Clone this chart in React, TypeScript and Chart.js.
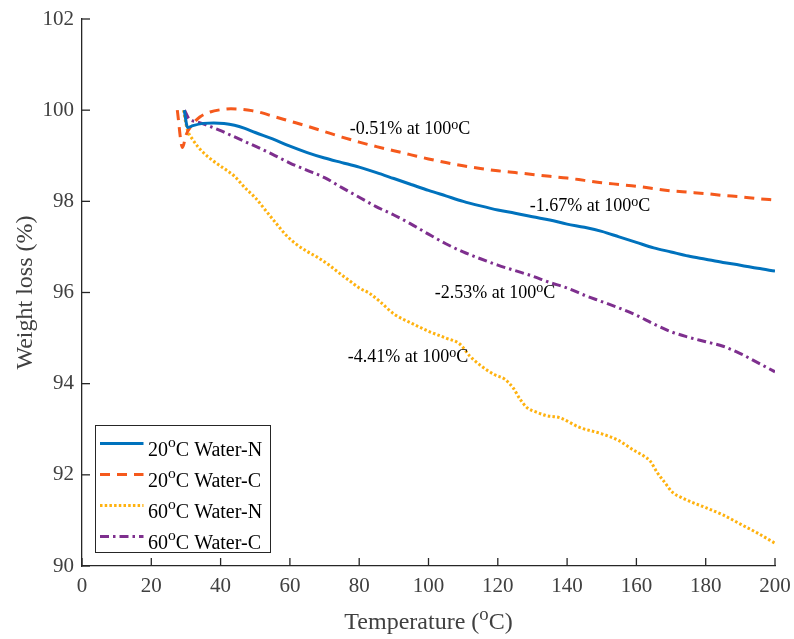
import React, { useEffect, useRef } from 'react';
import { Chart, registerables } from 'chart.js';

Chart.register(...registerables);

// ---------- data ----------
const temp20N = [29.5, 30.5, 32, 35, 38, 41, 44, 47, 50, 55, 60, 65, 70, 75, 80, 85, 90, 95, 100, 105, 110, 115, 120, 125, 130, 135, 140, 145, 150, 155, 160, 165, 170, 175, 180, 185, 190, 195, 200];
const weight20N = [100.0, 99.62, 99.66, 99.71, 99.72, 99.71, 99.67, 99.6, 99.51, 99.37, 99.21, 99.07, 98.95, 98.85, 98.75, 98.63, 98.5, 98.37, 98.24, 98.12, 98.0, 97.9, 97.81, 97.74, 97.66, 97.59, 97.5, 97.43, 97.34, 97.22, 97.1, 96.98, 96.89, 96.8, 96.73, 96.66, 96.6, 96.53, 96.47];

const temp20C = [27.5, 29, 30, 31.5, 34, 37, 40, 43, 46, 49, 52, 55, 60, 65, 70, 75, 80, 85, 90, 95, 100, 105, 110, 115, 120, 125, 130, 135, 140, 145, 150, 155, 160, 165, 170, 175, 180, 185, 190, 195, 200];
const weight20C = [100.0, 99.18, 99.45, 99.65, 99.85, 99.96, 100.01, 100.03, 100.02, 99.99, 99.94, 99.87, 99.76, 99.65, 99.53, 99.41, 99.3, 99.2, 99.11, 99.02, 98.93, 98.85, 98.78, 98.72, 98.67, 98.63, 98.59, 98.55, 98.51, 98.46, 98.41, 98.37, 98.33, 98.28, 98.23, 98.2, 98.17, 98.13, 98.1, 98.06, 98.03];

const temp60N = [29.3, 30.3, 32, 35, 38, 41, 44, 47, 50, 53, 56, 59, 62, 65, 68, 71, 74, 77, 80, 83, 86, 90, 95, 100, 105, 109, 112, 115, 119, 122, 124.5, 126.5, 128.5, 131, 134, 138, 143.6, 150, 155, 159, 162, 164, 166, 168, 170.5, 173, 176, 180, 185, 190, 195, 200];
const weight60N = [100.0, 99.6, 99.35, 99.07, 98.88, 98.72, 98.55, 98.3, 98.08, 97.8, 97.52, 97.25, 97.05, 96.9, 96.77, 96.62, 96.44, 96.27, 96.1, 95.98, 95.8, 95.53, 95.33, 95.15, 95.0, 94.87, 94.6, 94.4, 94.2, 94.1, 93.9, 93.65, 93.47, 93.38, 93.3, 93.25, 93.04, 92.9, 92.75, 92.55, 92.42, 92.3, 92.05, 91.85, 91.61, 91.5, 91.4, 91.28, 91.12, 90.92, 90.72, 90.5];

const temp60C = [29.6, 31, 33, 36, 40, 45, 50, 55, 60, 65, 70, 75, 80, 85, 90, 95, 100, 105, 110, 115, 120, 125, 130, 135, 140, 145, 150, 155, 160, 165, 170, 175, 180, 185, 190, 195, 200];
const weight60C = [100.0, 99.8, 99.75, 99.67, 99.55, 99.38, 99.21, 99.03, 98.84, 98.68, 98.52, 98.3, 98.09, 97.88, 97.7, 97.5, 97.28, 97.07, 96.89, 96.74, 96.6, 96.48, 96.36, 96.22, 96.1, 95.94, 95.8, 95.66, 95.5, 95.31, 95.14, 95.02, 94.92, 94.82, 94.66, 94.46, 94.26];

const seriesTemps = ['20', '20', '60', '60'];
const seriesNames = ['Water-N', 'Water-C', 'Water-N', 'Water-C'];

const noteLosses = ['-0.51%', '-1.67%', '-2.53%', '-4.41%'];
const noteTemp = '100';
const noteAtX = [77.3, 129.2, 101.8, 76.7];
const noteAtY = [99.47, 97.78, 95.89, 94.47];

const xTicksStep = 20;
const yTicksStep = 2;

// ---------- style ----------
const FONT = '"Liberation Serif", "Times New Roman", serif';
const AXIS = '#262626';
const LABEL = '#404040';
const COLORS = ['#0072BD', '#F5591C', '#FFB20F', '#7E2F8E'];
const DASHES: number[][] = [[], [10, 7], [2.5, 2.2], [9, 4, 2.5, 4]];

type Seg = [string, boolean];

function measureSegs(ctx: CanvasRenderingContext2D, segs: Seg[], size: number) {
  let w = 0;
  for (const [t, sup] of segs) {
    ctx.font = `${sup ? size * 0.78 : size}px ${FONT}`;
    w += ctx.measureText(t).width;
  }
  return w;
}

function drawSegs(ctx: CanvasRenderingContext2D, x: number, y: number, segs: Seg[], size: number, color: string, raise = 0.38) {
  ctx.fillStyle = color;
  ctx.textBaseline = 'alphabetic';
  ctx.textAlign = 'left';
  let cx = x;
  for (const [t, sup] of segs) {
    const s = sup ? size * 0.78 : size;
    ctx.font = `${s}px ${FONT}`;
    ctx.fillText(t, cx, sup ? y - size * raise : y);
    cx += ctx.measureText(t).width;
  }
}

const overlayPlugin = {
  id: 'overlay',
  afterDraw(chart: any) {
    const { ctx, chartArea } = chart;
    const xs = chart.scales.x;
    const ys = chart.scales.y;
    ctx.save();
    // inward ticks
    ctx.strokeStyle = AXIS;
    ctx.lineWidth = 1.3;
    ctx.setLineDash([]);
    xs.ticks.forEach((t: any) => {
      const px = xs.getPixelForValue(t.value);
      ctx.beginPath();
      ctx.moveTo(px, chartArea.bottom);
      ctx.lineTo(px, chartArea.bottom - 8);
      ctx.stroke();
    });
    ys.ticks.forEach((t: any) => {
      const py = ys.getPixelForValue(t.value);
      ctx.beginPath();
      ctx.moveTo(chartArea.left, py);
      ctx.lineTo(chartArea.left + 8, py);
      ctx.stroke();
    });

    // annotations
    noteLosses.forEach((loss, i) => {
      const px = xs.getPixelForValue(noteAtX[i]);
      const py = ys.getPixelForValue(noteAtY[i]);
      drawSegs(ctx, px, py, [[`${loss} at ${noteTemp}`, false], ['o', true], ['C', false]], 18, '#000', 0.3);
    });

    // legend
    const lx = 95.5, ly = 425.5, lw = 175, lh = 127;
    ctx.fillStyle = '#fff';
    ctx.fillRect(lx, ly, lw, lh);
    ctx.strokeStyle = AXIS;
    ctx.lineWidth = 1;
    ctx.strokeRect(lx, ly, lw, lh);
    chart.data.datasets.forEach((ds: any, i: number) => {
      const rowY = 443.5 + i * 31;
      ctx.save();
      ctx.strokeStyle = ds.borderColor;
      ctx.lineWidth = ds.borderWidth;
      ctx.setLineDash(ds.borderDash || []);
      ctx.beginPath();
      ctx.moveTo(100, rowY);
      ctx.lineTo(143.5, rowY);
      ctx.stroke();
      ctx.restore();
      drawSegs(ctx, 148, rowY + 12, [[seriesTemps[i], false], ['o', true], [`C ${seriesNames[i]}`, false]], 20, '#000', 0.42);
    });

    // x title
    const xt: Seg[] = [['Temperature (', false], ['o', true], ['C)', false]];
    const xtw = measureSegs(ctx, xt, 24);
    drawSegs(ctx, (chartArea.left + chartArea.right) / 2 - xtw / 2, 629, xt, 24, LABEL);

    // y title
    const yt: Seg[] = [['Weight loss (%)', false]];
    const ytw = measureSegs(ctx, yt, 24);
    ctx.save();
    ctx.translate(32, (chartArea.top + chartArea.bottom) / 2);
    ctx.rotate(-Math.PI / 2);
    drawSegs(ctx, -ytw / 2, 0, yt, 24, LABEL);
    ctx.restore();

    ctx.restore();
  },
};

export default function App() {
  const ref = useRef<HTMLCanvasElement | null>(null);
  useEffect(() => {
    if (!ref.current) return;
    const mk = (xs: number[], ys: number[]) => xs.map((x, i) => ({ x, y: ys[i] }));
    const dataSets = [mk(temp20N, weight20N), mk(temp20C, weight20C), mk(temp60N, weight60N), mk(temp60C, weight60C)];
    const chart = new Chart(ref.current, {
      type: 'line',
      data: {
        datasets: dataSets.map((d, i) => ({
          label: `${seriesTemps[i]}°C ${seriesNames[i]}`,
          data: d,
          borderColor: COLORS[i],
          backgroundColor: COLORS[i],
          borderWidth: 3,
          borderDash: DASHES[i],
          pointRadius: 0,
          fill: false,
          cubicInterpolationMode: 'monotone' as const,
        })),
      },
      options: {
        animation: false,
        responsive: false,
        maintainAspectRatio: false,
        layout: { padding: { top: 19, right: 19, left: 0, bottom: 0 } },
        plugins: { legend: { display: false }, tooltip: { enabled: false } },
        scales: {
          x: {
            type: 'linear',
            min: 0,
            max: 200,
            ticks: { stepSize: xTicksStep, color: LABEL, font: { family: FONT, size: 21 }, padding: 8, maxRotation: 0 },
            grid: { display: false, drawTicks: false },
            border: { display: true, color: AXIS, width: 1.3 },
            afterFit: (s: any) => { s.height = 73; s.paddingLeft = 0; s.paddingRight = 0; },
          },
          y: {
            type: 'linear',
            min: 90,
            max: 102,
            ticks: { stepSize: yTicksStep, color: LABEL, font: { family: FONT, size: 21 }, padding: 8 },
            grid: { display: false, drawTicks: false },
            border: { display: true, color: AXIS, width: 1.3 },
            afterFit: (s: any) => { s.width = 82; s.paddingTop = 0; s.paddingBottom = 0; },
          },
        },
      },
      plugins: [overlayPlugin],
    });
    return () => chart.destroy();
  }, []);
  return (
    <div style={{ position: 'absolute', left: 0, top: 0, width: 794, height: 639, background: '#fff' }}>
      <canvas ref={ref} width={794} height={639} style={{ display: 'block', width: 794, height: 639 }} />
    </div>
  );
}
